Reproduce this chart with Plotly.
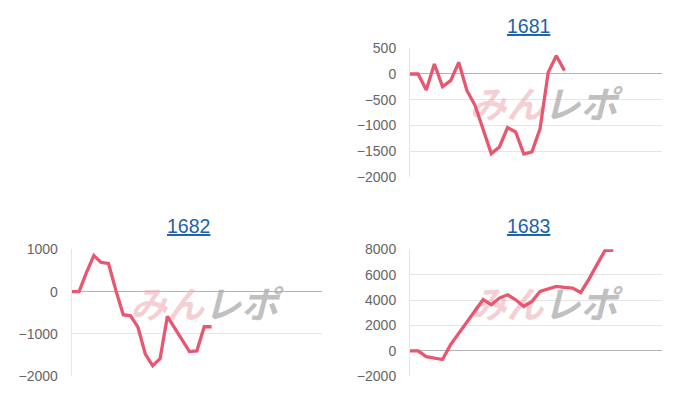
import plotly.graph_objects as go

# 差枚データ (台番ごと)
titles = ["1681", "1682", "1683"]

diff_1681 = [0, 0, -310, 195, -245, -130, 225, -320, -610, -1085,
             -1550, -1420, -1045, -1130, -1560, -1515, -1065, 30, 355, 65]
diff_1682 = [0, 0, 450, 850, 690, 665, 30, -545, -570, -840,
             -1475, -1750, -1585, -585, -860, -1140, -1415, -1400, -830, -830]
diff_1683 = [0, 0, -450, -580, -680, 500, 1400, 2200, 3150, 4050,
             3630, 4160, 4420, 4025, 3500, 3890, 4680, 4870, 5080, 5000,
             4950, 4600, 5630, 6790, 7920, 7920]

series = [diff_1681, diff_1682, diff_1683]
x_max = [31, 34, 31]
y_ranges = [[-2000, 500], [-2000, 1000], [-2000, 8000]]
y_dticks = [500, 1000, 2000]

LINE = "#e8566f"
GRID = "#e6e6e6"
ZERO = "#b4b4b4"
TICK = "#666666"
LINK = "#1a62a8"

W, H = 700, 400
OFF = 8  # page body margin


def px_x(p):
    return (p - OFF) / W


def px_y(p):
    return 1 - (p - OFF) / H


# plot boxes in page pixels: (left, right, top, bottom)
boxes = [(410, 662, 48.3, 176.7), (71.7, 322, 249.3, 376.3), (410, 662, 249.3, 376.3)]
title_y = [26, 226, 226]

watermark = ('<b><i><span style="color:rgba(238,176,184,0.6)">みん</span>'
             '<span style="color:rgba(168,168,168,0.72)">レポ</span></i></b>')

fig = go.Figure()
layout = dict(
    width=W, height=H,
    margin=dict(l=0, r=0, t=0, b=0, autoexpand=False),
    paper_bgcolor="white", plot_bgcolor="white",
    showlegend=False,
    font=dict(family="Liberation Sans, Arial, sans-serif", color=TICK),
    annotations=[],
)

for i, vals in enumerate(series):
    n = "" if i == 0 else str(i + 1)
    xa, ya = "x" + n, "y" + n
    lo, hi = y_ranges[i]
    left, right, top, bottom = boxes[i]

    # watermark behind the line
    fig.add_trace(go.Scatter(
        x=[x_max[i] * 0.53], y=[lo + (hi - lo) * 0.53],
        mode="text", text=[watermark],
        textfont=dict(family="Noto Sans CJK JP", size=37),
        xaxis=xa, yaxis=ya, hoverinfo="skip",
    ))
    fig.add_trace(go.Scatter(
        x=list(range(len(vals))), y=vals,
        mode="lines", line=dict(color=LINE, width=3.3),
        xaxis=xa, yaxis=ya, hoverinfo="skip",
    ))

    layout["xaxis" + n] = dict(
        domain=[px_x(left), px_x(right)], anchor=ya, range=[0, x_max[i]],
        showgrid=False, zeroline=False, showticklabels=False, showline=False,
        automargin=False,
    )
    layout["yaxis" + n] = dict(
        domain=[px_y(bottom), px_y(top)], anchor=xa, range=[lo, hi], dtick=y_dticks[i],
        showgrid=True, gridcolor=GRID, gridwidth=1,
        zeroline=True, zerolinecolor=ZERO, zerolinewidth=1,
        showline=True, linecolor=GRID, linewidth=1,
        ticks="", ticklabelstandoff=10, automargin=False,
        tickfont=dict(size=14, color=TICK),
    )
    layout["annotations"].append(dict(
        text="<u>" + titles[i] + "</u>", xref="paper", yref="paper",
        x=px_x((left + right) / 2 - 8), y=px_y(title_y[i]),
        xanchor="center", yanchor="middle",
        showarrow=False, font=dict(size=19.5, color=LINK),
    ))

fig.update_layout(**layout)
fig.write_html("out.html")
